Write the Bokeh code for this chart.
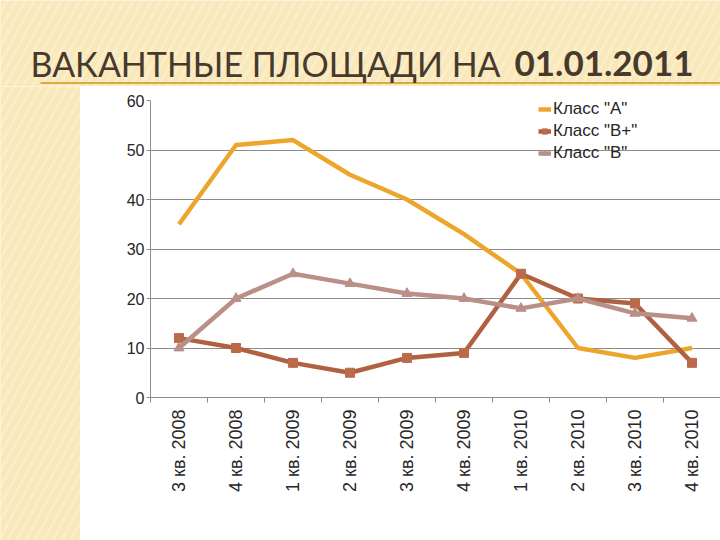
import numpy as np
from bokeh.plotting import figure
from bokeh.models import Range1d, FixedTicker, CustomJSTickFormatter, Legend, LegendItem, Label
from bokeh.layouts import column, row
from bokeh.embed import file_html
from bokeh.resources import INLINE

title_words = "ВАКАНТНЫЕ ПЛОЩАДИ НА"
title_date = "01.01.2011"
cats = ["3 кв. 2008", "4 кв. 2008", "1 кв. 2009", "2 кв. 2009", "3 кв. 2009",
        "4 кв. 2009", "1 кв. 2010", "2 кв. 2010", "3 кв. 2010", "4 кв. 2010"]
class_a = [35, 51, 52, 45, 40, 33, 25, 10, 8, 10]
class_bp = [12, 10, 7, 5, 8, 9, 25, 20, 19, 7]
class_b = [10, 20, 25, 23, 21, 20, 18, 20, 17, 16]
series_names = ['Класс "A"', 'Класс "B+"', 'Класс "B"']
y_ticks = [0, 10, 20, 30, 40, 50, 60]

BG = "#F8E8BA"
STRIPE = "#FDF3D6"

# decorative background stripes (global page coordinates, "/" direction)
_slope = 0.55
_c = np.arange(-20, 1040, 9.0)
stripe_x0 = _c
stripe_y0 = np.zeros_like(_c)
stripe_x1 = _c - 540 * _slope
stripe_y1 = np.full_like(_c, 540.0)


def deco_fig(w, h, y_top, y_bottom):
    f = figure(width=w, height=h, x_range=Range1d(0, w), y_range=Range1d(y_bottom, y_top),
               output_backend="svg", toolbar_location=None, min_border=0,
               x_axis_type=None, y_axis_type=None)
    f.frame_align = False
    f.grid.visible = False
    f.outline_line_color = None
    f.background_fill_color = BG
    f.border_fill_color = BG
    f.segment(x0=stripe_x0, y0=stripe_y0, x1=stripe_x1, y1=stripe_y1,
              line_color=STRIPE, line_width=3, line_alpha=0.55)
    return f


top = deco_fig(720, 86, 0, 86)
top.add_layout(Label(x=30, y=63, text=title_words, text_font="Lato", text_font_size="34px",
                     text_color="#47392B", text_baseline="alphabetic"))
top.add_layout(Label(x=514, y=63, text=title_date, text_font="Lato", text_font_size="35px",
                     text_font_style="bold", text_color="#47392B", text_baseline="alphabetic"))
top.segment(x0=40, y0=82.5, x1=720, y1=82.5, line_color="#E0A845", line_width=2)

left = deco_fig(80, 454, 86, 540)

xs = [i + 0.5 for i in range(len(cats))]

p = figure(width=640, height=454, x_range=Range1d(0, len(cats)), y_range=Range1d(0, 60),
           output_backend="svg", toolbar_location=None,
           min_border_left=70, min_border_top=14, min_border_right=0, min_border_bottom=143)
p.frame_align = False
p.outline_line_color = None
p.background_fill_color = "white"
p.border_fill_color = "white"
p.xgrid.visible = False
p.ygrid.grid_line_color = "#8C8C8C"
p.ygrid.grid_line_width = 1
p.ygrid.ticker = FixedTicker(ticks=y_ticks)

p.yaxis.ticker = FixedTicker(ticks=y_ticks)
p.yaxis.axis_line_color = "#8C8C8C"
p.yaxis.major_tick_line_color = "#8C8C8C"
p.yaxis.major_tick_out = 4
p.yaxis.major_tick_in = 0
p.yaxis.minor_tick_line_color = None
p.yaxis.major_label_text_font = "Liberation Sans"
p.yaxis.major_label_text_font_size = "16px"
p.yaxis.major_label_text_color = "#262626"
p.yaxis.major_label_standoff = 2

p.xaxis.ticker = FixedTicker(ticks=xs, minor_ticks=list(range(len(cats) + 1)))
p.xaxis.formatter = CustomJSTickFormatter(args=dict(labels=cats),
                                          code="const i = Math.round(tick - 0.5); return labels[i] || '';")
p.xaxis.axis_line_color = "#8C8C8C"
p.xaxis.major_tick_out = 0
p.xaxis.major_tick_in = 0
p.xaxis.minor_tick_out = 5
p.xaxis.minor_tick_in = 0
p.xaxis.minor_tick_line_color = "#8C8C8C"
p.xaxis.major_label_orientation = 1.5708
p.xaxis.major_label_text_font = "Liberation Sans"
p.xaxis.major_label_text_font_size = "18px"
p.xaxis.major_label_text_color = "#262626"
p.xaxis.major_label_standoff = 7

col_a = "#ECA62C"
col_bp = "#AF6142"
col_b = "#B98F88"

la = p.line(xs, class_a, line_color=col_a, line_width=4.5, line_join="round")
lbp = p.line(xs, class_bp, line_color=col_bp, line_width=4.5, line_join="round")
sbp = p.scatter(xs, class_bp, marker="square", size=9, fill_color="#BB6B4A", line_color="#BB6B4A")
lb = p.line(xs, class_b, line_color=col_b, line_width=4.5, line_join="round")
sb = p.scatter(xs, class_b, marker="triangle", size=10, fill_color=col_b, line_color=col_b)

legend = Legend(items=[LegendItem(label=series_names[0], renderers=[la]),
                       LegendItem(label=series_names[1], renderers=[lbp, sbp]),
                       LegendItem(label=series_names[2], renderers=[lb, sb])],
                location=(388, 234), padding=0, margin=0, spacing=2,
                glyph_width=13, glyph_height=20, label_height=20, label_standoff=2,
                label_text_font="Liberation Sans", label_text_font_size="17px",
                label_text_color="#262626", border_line_color=None, background_fill_alpha=0)
p.add_layout(legend)

layout = column(top, row(left, p, spacing=0), spacing=0)

open("out.html", "w").write(file_html(layout, INLINE))
